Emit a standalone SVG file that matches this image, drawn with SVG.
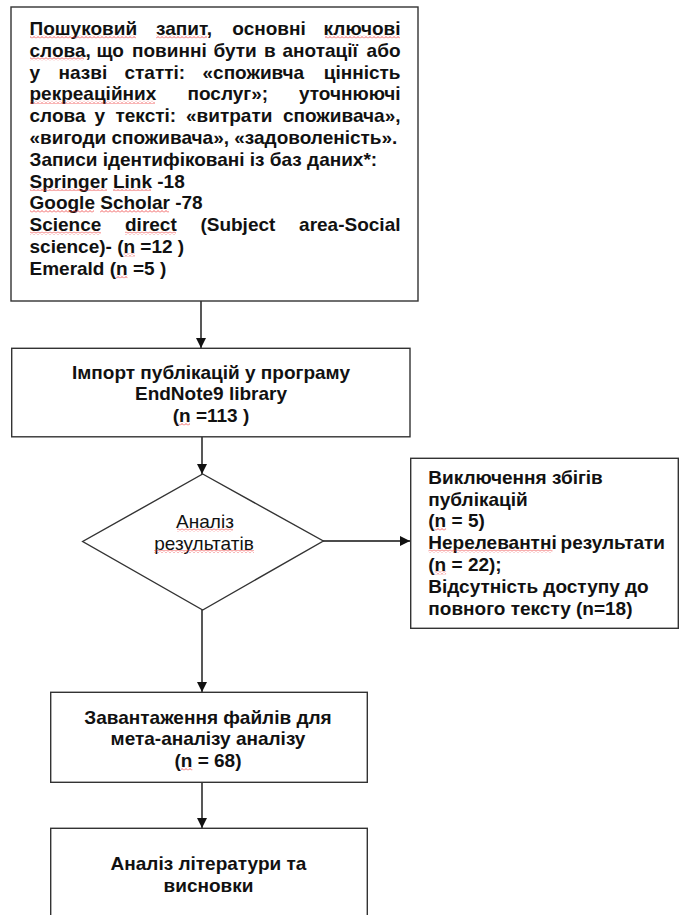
<svg xmlns="http://www.w3.org/2000/svg" width="680" height="915" viewBox="0 0 680 915">
<style>
.box{fill:#fff;stroke:#333;stroke-width:1.4}
.t{font-family:"Liberation Sans",Arial,sans-serif;font-size:19px;font-weight:bold;fill:#111}
.r{font-family:"Liberation Sans",Arial,sans-serif;font-size:19px;fill:#111}
.c{text-anchor:middle}
.e{text-anchor:end}
.con{fill:none;stroke:#111;stroke-width:1.4}
.sq{fill:url(#sq)}
</style>
<defs>
<marker id="ah" markerUnits="userSpaceOnUse" markerWidth="11" markerHeight="11" refX="10" refY="5" orient="auto">
<path d="M0,0 L10,5 L0,10 z" fill="#111"/>
</marker>
<pattern id="sq" patternUnits="userSpaceOnUse" width="4" height="3">
<path d="M0,2.5 L2,0.5 L4,2.5" fill="none" stroke="#e33" stroke-width="0.8"/>
</pattern>
</defs>
<rect width="680" height="915" fill="#fff"/>

<g id="connectors">
<line class="con" x1="201" y1="301" x2="201" y2="348" marker-end="url(#ah)"/>
<line class="con" x1="202" y1="437" x2="202" y2="474" marker-end="url(#ah)"/>
<line class="con" x1="323" y1="541" x2="410" y2="541" marker-end="url(#ah)"/>
<line class="con" x1="202" y1="610" x2="202" y2="692" marker-end="url(#ah)"/>
<line class="con" x1="202" y1="782" x2="202" y2="828" marker-end="url(#ah)"/>
</g>

<g id="search">
<rect class="box" x="11" y="7" width="407" height="294"/>
<text class="t" y="35"><tspan x="29.5">Пошуковий</tspan><tspan x="156">запит,</tspan><tspan x="232.3">основні</tspan></text>
<text class="t e" x="400.5" y="35">ключові</text>
<text class="t" y="56.8"><tspan x="29.5">слова,</tspan><tspan x="96.5">що</tspan><tspan x="132">повинні</tspan><tspan x="213.5">бути</tspan><tspan x="264">в</tspan><tspan x="282.5">анотації</tspan></text>
<text class="t e" x="400.5" y="56.8">або</text>
<text class="t" y="78.6"><tspan x="29.5">у</tspan><tspan x="58.5">назві</tspan><tspan x="124.5">статті:</tspan><tspan x="202.5">«споживча</tspan></text>
<text class="t e" x="400.5" y="78.6">цінність</text>
<text class="t" y="100.4"><tspan x="29.5">рекреаційних</tspan><tspan x="187.5">послуг»;</tspan></text>
<text class="t e" x="400.5" y="100.4">уточнюючі</text>
<text class="t" y="122.2"><tspan x="29.5">слова</tspan><tspan x="94.5">у</tspan><tspan x="115.5">тексті:</tspan><tspan x="186">«витрати</tspan></text>
<text class="t e" x="400.5" y="122.2">споживача»,</text>
<text class="t" x="29.5" y="144">«вигоди споживача», «задоволеність».</text>
<text class="t" x="29.5" y="165.8">Записи ідентифіковані із баз даних*:</text>
<text class="t" x="29.5" y="187.6">Springer Link -18</text>
<text class="t" x="29.5" y="209.4">Google Scholar -78</text>
<text class="t" y="231.2"><tspan x="29.5">Science</tspan><tspan x="125">direct</tspan><tspan x="200.4">(Subject</tspan></text>
<text class="t e" x="400.5" y="231.2">area-Social</text>
<text class="t" x="29.5" y="253">science)- (n =12 )</text>
<text class="t" x="29.5" y="274.8">Emerald (n =5 )</text>
<rect class="sq" x="30" y="35.5" width="106" height="3"/>
<rect class="sq" x="156" y="35.5" width="51" height="3"/>
<rect class="sq" x="325" y="35.5" width="75" height="3"/>
<rect class="sq" x="30" y="57.3" width="54" height="3"/>
<rect class="sq" x="30" y="100.9" width="125" height="3"/>
<rect class="sq" x="30" y="188.1" width="77" height="3"/>
<rect class="sq" x="113" y="188.1" width="38" height="3"/>
<rect class="sq" x="30" y="209.9" width="64" height="3"/>
<rect class="sq" x="100" y="209.9" width="69" height="3"/>
<rect class="sq" x="30" y="231.7" width="71" height="3"/>
<rect class="sq" x="125" y="231.7" width="51" height="3"/>
<rect class="sq" x="123.5" y="253.5" width="11.5" height="3"/>
<rect class="sq" x="116" y="275.3" width="11.5" height="3"/>
</g>

<g id="import">
<rect class="box" x="11.7" y="348.3" width="398.3" height="88.5"/>
<text class="t c" x="211" y="378.5">Імпорт публікацій у програму</text>
<text class="t c" x="211" y="400.3">EndNote9 library</text>
<text class="t c" x="211" y="422.1">(n =113 )</text>
<rect class="sq" x="178.5" y="422.6" width="11.5" height="3"/>
</g>

<g id="analysis">
<polygon class="box" points="202.7,474 323.3,541 202.7,610 82.7,541.5"/>
<text class="r c" x="205" y="528">Аналіз</text>
<text class="r c" x="204" y="549.5">результатів</text>
<rect class="sq" x="177" y="528.5" width="56" height="3"/>
<rect class="sq" x="154" y="550" width="100" height="3"/>
</g>

<g id="excluded">
<rect class="box" x="410.7" y="458.3" width="267.6" height="170"/>
<text class="t" x="428.3" y="483.7">Виключення збігів</text>
<text class="t" x="428.3" y="505.5">публікацій</text>
<text class="t" x="428.3" y="527.3">(n = 5)</text>
<text class="t" x="428.3" y="549.1">Нерелевантні</text>
<text class="t e" x="665" y="549.1">результати</text>
<text class="t" x="428.3" y="570.9">(n = 22);</text>
<text class="t" x="428.3" y="592.7">Відсутність доступу до</text>
<text class="t" x="428.3" y="614.5">повного тексту (n=18)</text>
<rect class="sq" x="434.6" y="527.8" width="11.5" height="3"/>
<rect class="sq" x="428.5" y="549.6" width="124" height="3"/>
<rect class="sq" x="434.6" y="571.4" width="11.5" height="3"/>
</g>

<g id="download">
<rect class="box" x="50.7" y="692.3" width="316.6" height="90"/>
<text class="t c" x="208" y="723.5">Завантаження файлів для</text>
<text class="t c" x="208" y="745.3">мета-аналізу аналізу</text>
<text class="t c" x="208" y="767.1">(n = 68)</text>
<rect class="sq" x="180.8" y="767.6" width="11.5" height="3"/>
</g>

<g id="conclusions">
<rect class="box" x="50.7" y="828.3" width="316.6" height="100"/>
<text class="t c" x="208.5" y="870">Аналіз літератури та</text>
<text class="t c" x="208.5" y="891.8">висновки</text>
</g>
</svg>
